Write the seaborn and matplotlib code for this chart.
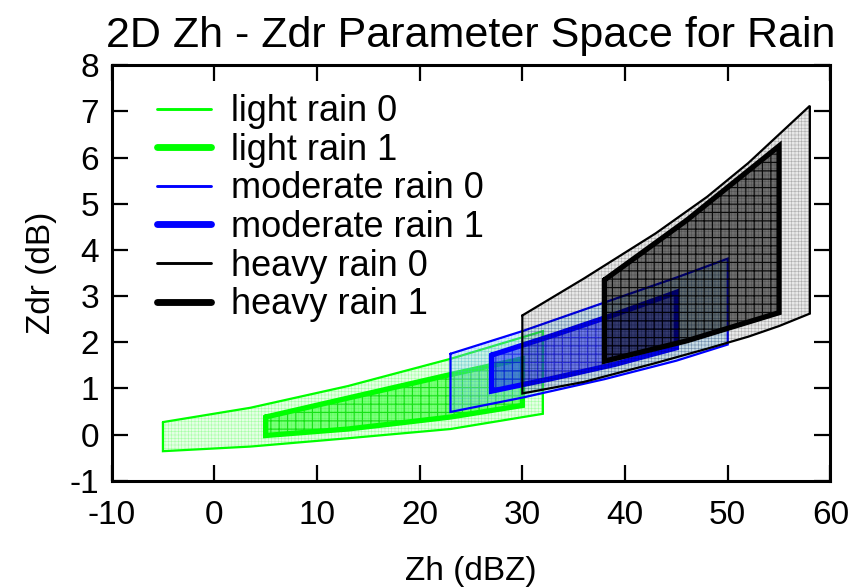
import matplotlib
matplotlib.use("Agg")
import numpy as np
import pandas as pd
import matplotlib.pyplot as plt
import seaborn as sns

# Contours des régions Zh (dBZ) / Zdr (dB)
light0_zh = [-5, 3.5, 13, 23, 32]
light0_top = [0.27, 0.58, 1.05, 1.64, 2.24]
light0_bot = [-0.36, -0.26, -0.08, 0.12, 0.45]

light1_zh = [5, 13, 23, 30]
light1_top = [0.38, 0.79, 1.30, 1.64]
light1_bot = [-0.02, 0.12, 0.38, 0.63]

moderate0_zh = [23, 30, 38, 45, 50]
moderate0_top = [1.75, 2.24, 2.86, 3.40, 3.81]
moderate0_bot = [0.49, 0.80, 1.20, 1.60, 1.95]

moderate1_zh = [27, 33, 39, 45]
moderate1_top = [1.72, 2.15, 2.60, 3.08]
moderate1_bot = [0.94, 1.22, 1.52, 1.88]

heavy0_zh = [30, 36, 43, 48, 52, 55, 58]
heavy0_top = [2.58, 3.38, 4.36, 5.15, 5.88, 6.50, 7.12]
heavy0_bot = [0.89, 1.14, 1.55, 1.86, 2.12, 2.35, 2.62]

heavy1_zh = [38, 46, 55]
heavy1_top = [3.35, 4.64, 6.25]
heavy1_bot = [1.59, 2.03, 2.64]

names = ['light rain 0', 'light rain 1', 'moderate rain 0',
         'moderate rain 1', 'heavy rain 0', 'heavy rain 1']
regions = [
    (light0_zh, light0_top, light0_bot),
    (light1_zh, light1_top, light1_bot),
    (moderate0_zh, moderate0_top, moderate0_bot),
    (moderate1_zh, moderate1_top, moderate1_bot),
    (heavy0_zh, heavy0_top, heavy0_bot),
    (heavy1_zh, heavy1_top, heavy1_bot),
]

line_colors = {'light rain 0': '#00ff00', 'light rain 1': '#00ff00',
               'moderate rain 0': '#0000ff', 'moderate rain 1': '#0000ff',
               'heavy rain 0': '#000000', 'heavy rain 1': '#000000'}
line_widths = {'light rain 0': 1.6, 'light rain 1': 3.8,
               'moderate rain 0': 1.6, 'moderate rain 1': 3.8,
               'heavy rain 0': 1.6, 'heavy rain 1': 3.8}

# remplissage (couleur de fond, couleur de la grille, motif, épaisseur grille)
fill_styles = [
    ((0.0, 1.0, 0.0, 0.10), (0.0, 1.0, 0.0, 0.28), '+++++', 0.4),
    ((0.0, 1.0, 0.0, 0.45), (0.0, 0.85, 0.0, 0.8), '++', 0.8),
    ((0.55, 0.82, 0.95, 0.30), (0.3, 0.6, 1.0, 0.35), '+++++', 0.4),
    ((0.0, 0.0, 1.0, 0.45), (0.0, 0.0, 0.9, 0.6), '++', 0.8),
    ((0.0, 0.0, 0.0, 0.09), (0.0, 0.0, 0.0, 0.25), '+++++', 0.4),
    ((0.0, 0.0, 0.0, 0.52), (0.0, 0.0, 0.0, 0.9), '++', 0.8),
]


def polygon(zh, top, bot):
    """Construit le contour fermé d'une région."""
    xs = list(zh) + list(zh[::-1]) + [zh[0]]
    ys = list(top) + list(bot[::-1]) + [top[0]]
    return xs, ys


rows = []
for name, (zh, top, bot) in zip(names, regions):
    xs, ys = polygon(zh, top, bot)
    for x, y in zip(xs, ys):
        rows.append({'Zh': x, 'Zdr': y, 'region': name})
df = pd.DataFrame(rows)

sns.set_theme(style='ticks', rc={'text.color': 'black',
                                 'axes.labelcolor': 'black',
                                 'xtick.color': 'black',
                                 'ytick.color': 'black'})
plt.rcParams['font.family'] = ['Liberation Sans', 'DejaVu Sans']
plt.rcParams['axes.unicode_minus'] = False

fig = plt.figure(figsize=(8.65, 5.87), dpi=100)
ax = fig.add_axes([0.129, 0.181, 0.831, 0.708])

sns.lineplot(data=df, x='Zh', y='Zdr', hue='region', size='region',
             hue_order=names, size_order=names, palette=line_colors,
             sizes=line_widths, sort=False, estimator=None, units='region',
             ax=ax)

# remplissages hachurés, intercalés avec les contours
for i, (name, (zh, top, bot)) in enumerate(zip(names, regions)):
    xs, ys = polygon(zh, top, bot)
    face, hcol, hatch, hlw = fill_styles[i]
    patch = ax.fill(xs, ys, facecolor=face, edgecolor=hcol, linewidth=0,
                    hatch=hatch, zorder=2 * i + 1)[0]
    if hasattr(patch, 'set_hatch_linewidth'):
        patch.set_hatch_linewidth(hlw)
for i, line in enumerate(ax.lines[:len(names)]):
    line.set_zorder(2 * i + 2)
    line.set_solid_joinstyle('miter')

ax.set_xlim(-10, 60)
ax.set_ylim(-1, 8)
ax.set_xticks(np.arange(-10, 61, 10))
ax.set_yticks(np.arange(-1, 9, 1))
ax.tick_params(direction='in', length=11.5, width=1.6, labelsize=24,
               top=True, right=True, colors='black')
ax.tick_params(axis='x', pad=14)
ax.tick_params(axis='y', pad=9)
for sp in ax.spines.values():
    sp.set_linewidth(2.2)
    sp.set_color('black')
    sp.set_zorder(20)

ax.set_xlabel('Zh (dBZ)', fontsize=24, labelpad=18)
ax.set_ylabel('Zdr (dB)', fontsize=24, labelpad=9)
ax.set_title('2D Zh - Zdr Parameter Space for Rain', fontsize=31, pad=13)

leg = ax.legend(loc='upper left', bbox_to_anchor=(0.063, 0.93), frameon=False,
                fontsize=26, handlelength=1.5, handletextpad=0.55,
                labelspacing=0.1, borderpad=0, borderaxespad=0, title=None)
for h, name in zip(leg.get_lines(), names):
    h.set_linewidth(line_widths[name] * 1.3)
    h.set_color(line_colors[name])

fig.savefig('out.png', dpi=100)
